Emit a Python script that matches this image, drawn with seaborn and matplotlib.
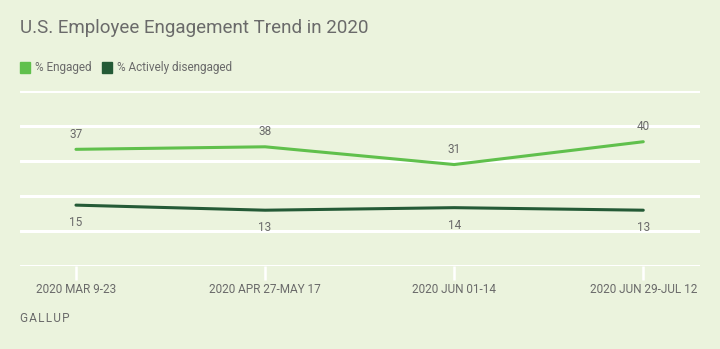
import matplotlib
matplotlib.use("Agg")
import matplotlib.pyplot as plt
import seaborn as sns
import pandas as pd
import numpy as np
from matplotlib.patches import Rectangle

periods = ["2020 MAR 9-23", "2020 APR 27-MAY 17", "2020 JUN 01-14", "2020 JUN 29-JUL 12"]
engaged = [37, 38, 31, 40]
disengaged = [15, 13, 14, 13]
series_names = ["% Engaged", "% Actively disengaged"]
colors = ["#60C04C", "#245A36"]

BG = "#EBF3DD"
TXT = "#6A6A6A"

sns.set_theme(style="white")
plt.rcParams["font.family"] = ["Roboto", "DejaVu Sans"]

df = pd.DataFrame({
    "x": list(range(len(periods))) * 2,
    "value": engaged + disengaged,
    "series": [series_names[0]] * len(periods) + [series_names[1]] * len(periods),
})

fig = plt.figure(figsize=(7.2, 3.49), dpi=100, facecolor=BG)
ax = fig.add_axes([20/720, 1-266/349, 680/720, 175/349])
ax.set_facecolor(BG)

sns.lineplot(data=df, x="x", y="value", hue="series", palette=colors,
             linewidth=2.2, legend=False, ax=ax)

ax.set_xlim(-0.296, 3.30)
ax.set_ylim(-9, 60)
ax.set_yticks(np.linspace(-9, 60, 6))
ax.set_yticklabels([])
ax.grid(axis="y", color="white", linewidth=2.2)
ax.grid(axis="x", visible=False)
for s in ax.spines.values():
    s.set_visible(False)
ax.set_xticks(range(len(periods)))
ax.set_xticklabels(periods, fontsize=8.5, color=TXT, fontstretch="condensed")
ax.tick_params(axis="x", bottom=True, length=10, width=1.8, color="white", pad=2)
ax.tick_params(axis="y", length=0)
ax.set_xlabel("")
ax.set_ylabel("")

for i, v in enumerate(engaged):
    ax.annotate(str(v), (i, v), xytext=(0, 6), textcoords="offset points",
                ha="center", va="bottom", fontsize=8.5, color=TXT)
for i, v in enumerate(disengaged):
    ax.annotate(str(v), (i, v), xytext=(0, -8), textcoords="offset points",
                ha="center", va="top", fontsize=8.5, color=TXT)

fig.text(20/720, 1-28/349, "U.S. Employee Engagement Trend in 2020",
         fontsize=13.5, color=TXT, va="center", ha="left")

# legend
lx = [20, 102]
for k, name in enumerate(series_names):
    fig.patches.append(Rectangle((lx[k]/720, 1-72.5/349), 10/720, 10/349,
                                 transform=fig.transFigure, color=colors[k]))
    fig.text((lx[k]+15)/720, 1-67.5/349, name, fontsize=8.5, color=TXT,
             va="center", ha="left")

fig.text(20/720, 1-319/349, "G\u200aA\u200aL\u200aL\u200aU\u200aP", fontsize=8.5,
         color=TXT, va="center", ha="left",
         family=["Roboto", "DejaVu Sans"])

fig.savefig("out.png", dpi=100, facecolor=BG)
